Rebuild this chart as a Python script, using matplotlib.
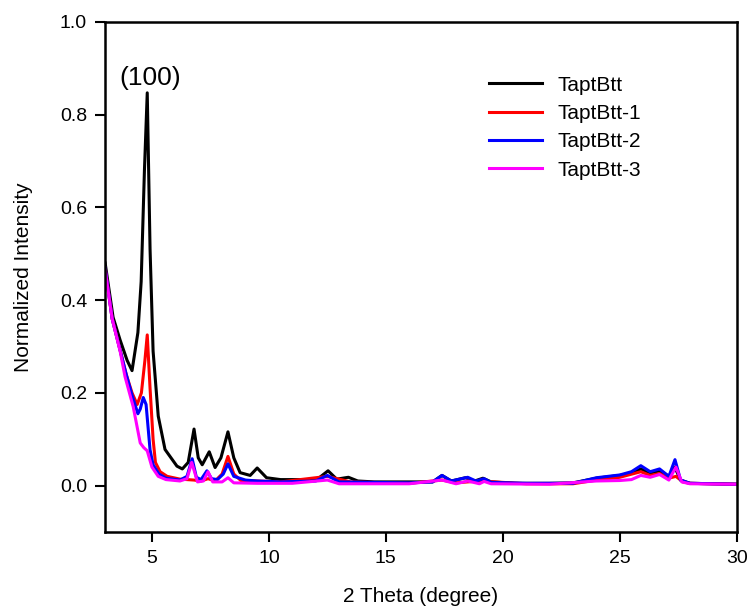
import numpy as np
import matplotlib.pyplot as plt

plt.rcParams['font.family'] = ['Liberation Sans', 'DejaVu Sans']

# 2-theta positions and normalized intensities
x_black = [3.0, 3.34, 3.64, 3.94, 4.15, 4.4, 4.54, 4.68, 4.8, 4.92, 5.05, 5.27, 5.56,
           6.07, 6.3, 6.55, 6.8, 6.98, 7.15, 7.45, 7.7, 7.95, 8.25, 8.5, 8.77, 9.2, 9.5,
           9.9, 10.5, 11.3, 12.0, 12.53, 12.9, 13.4, 13.8, 14.5, 16.0, 17.0, 17.4, 17.8,
           18.4, 18.8, 19.15, 19.5, 20.5, 22.0, 23.0, 24.0, 25.0, 25.5, 25.9, 26.3, 26.7,
           27.1, 27.35, 27.6, 28.0, 29.0, 30.0]
y_black = [0.48, 0.363, 0.314, 0.27, 0.248, 0.33, 0.44, 0.68, 0.847, 0.51, 0.29, 0.15, 0.078,
           0.042, 0.036, 0.05, 0.122, 0.06, 0.045, 0.073, 0.039, 0.06, 0.116, 0.06, 0.028,
           0.022, 0.038, 0.017, 0.013, 0.013, 0.011, 0.032, 0.014, 0.018, 0.01, 0.008, 0.008,
           0.008, 0.022, 0.01, 0.017, 0.01, 0.016, 0.008, 0.005, 0.005, 0.006, 0.016, 0.022,
           0.027, 0.036, 0.027, 0.032, 0.02, 0.04, 0.012, 0.005, 0.004, 0.003]

x_red = [3.0, 3.3, 3.6, 3.9, 4.15, 4.37, 4.55, 4.7, 4.8, 4.92, 5.05, 5.15, 5.35, 5.65,
         6.2, 6.8, 7.1, 7.4, 7.7, 8.0, 8.25, 8.5, 8.8, 9.5, 10.5, 12.5, 13.5, 16.0,
         17.4, 18.0, 19.0, 21.0, 23.0, 24.0, 25.0, 25.9, 26.3, 26.7, 27.1, 27.4, 27.7,
         28.0, 30.0]
y_red = [0.47, 0.36, 0.3, 0.24, 0.2, 0.175, 0.2, 0.27, 0.325, 0.21, 0.1, 0.05, 0.03, 0.02,
         0.014, 0.012, 0.01, 0.015, 0.01, 0.025, 0.063, 0.025, 0.011, 0.01, 0.008, 0.02,
         0.008, 0.005, 0.012, 0.006, 0.01, 0.004, 0.004, 0.012, 0.018, 0.03, 0.022, 0.026,
         0.016, 0.02, 0.008, 0.005, 0.003]

x_blue = [3.0, 3.3, 3.6, 3.9, 4.15, 4.4, 4.5, 4.63, 4.75, 4.92, 5.05, 5.3, 5.6, 6.2, 6.5,
          6.72, 6.9, 7.1, 7.35, 7.55, 7.8, 8.05, 8.25, 8.5, 9.0, 9.5, 10.5, 12.0, 12.5, 13.0,
          16.0, 17.0, 17.4, 17.8, 18.5, 18.85, 19.2, 19.5, 21.0, 23.0, 24.0, 25.0, 25.5, 25.9,
          26.3, 26.7, 27.1, 27.36, 27.6, 28.0, 30.0]
y_blue = [0.47, 0.36, 0.3, 0.24, 0.195, 0.155, 0.165, 0.19, 0.175, 0.077, 0.045, 0.025, 0.016,
          0.012, 0.02, 0.058, 0.018, 0.013, 0.032, 0.015, 0.013, 0.025, 0.047, 0.02, 0.012,
          0.01, 0.008, 0.01, 0.022, 0.008, 0.006, 0.008, 0.022, 0.01, 0.018, 0.01, 0.015,
          0.007, 0.005, 0.005, 0.017, 0.023, 0.03, 0.043, 0.03, 0.036, 0.02, 0.056, 0.012,
          0.005, 0.003]

x_mag = [3.0, 3.3, 3.64, 3.85, 4.2, 4.5, 4.65, 4.8, 5.0, 5.27, 5.6, 6.2, 6.5, 6.7, 6.95,
         7.2, 7.4, 7.6, 8.0, 8.25, 8.5, 9.5, 11.0, 12.5, 13.0, 16.0, 17.4, 18.0, 18.5, 19.0,
         19.2, 19.5, 22.0, 24.0, 25.0, 25.5, 25.9, 26.3, 26.7, 27.1, 27.4, 27.65, 28.0, 30.0]
y_mag = [0.465, 0.36, 0.29, 0.235, 0.17, 0.092, 0.082, 0.075, 0.04, 0.02, 0.013, 0.01, 0.015,
         0.05, 0.008, 0.01, 0.03, 0.008, 0.008, 0.017, 0.006, 0.005, 0.005, 0.012, 0.004,
         0.004, 0.012, 0.004, 0.01, 0.004, 0.009, 0.004, 0.003, 0.01, 0.011, 0.013, 0.022,
         0.018, 0.024, 0.012, 0.04, 0.008, 0.004, 0.003]

labels = ['TaptBtt', 'TaptBtt-1', 'TaptBtt-2', 'TaptBtt-3']
colors = ['black', 'red', 'blue', 'magenta']

fig = plt.figure(figsize=(7.51, 6.08), dpi=100)
ax = fig.add_axes([0.14, 0.125, 0.841, 0.839])

for xs, ys, lab, col in zip([x_black, x_red, x_blue, x_mag],
                            [y_black, y_red, y_blue, y_mag], labels, colors):
    ax.plot(xs, ys, color=col, lw=2.2, label=lab)

ax.set_xlim(3, 30)
ax.set_ylim(-0.1, 1.0)
ax.set_xticks([5, 10, 15, 20, 25, 30])
ax.set_yticks([0.0, 0.2, 0.4, 0.6, 0.8, 1.0])
ax.set_yticklabels(['0.0', '0.2', '0.4', '0.6', '0.8', '1.0'])
ax.tick_params(direction='out', length=7, width=1.5, labelsize=14, pad=6,
               top=False, right=False)
for sp in ax.spines.values():
    sp.set_linewidth(1.8)

ax.set_xlabel('2 Theta (degree)', fontsize=15, labelpad=14)
ax.set_ylabel('Normalized Intensity', fontsize=15, labelpad=19)

ax.text(4.92, 0.88, '(100)', fontsize=19, ha='center', va='center')

ax.legend(loc='upper left', bbox_to_anchor=(0.592, 0.915), frameon=False, fontsize=15,
          handlelength=2.5, handletextpad=0.75, labelspacing=0.45, borderpad=0)

fig.savefig('out.png', dpi=100)
